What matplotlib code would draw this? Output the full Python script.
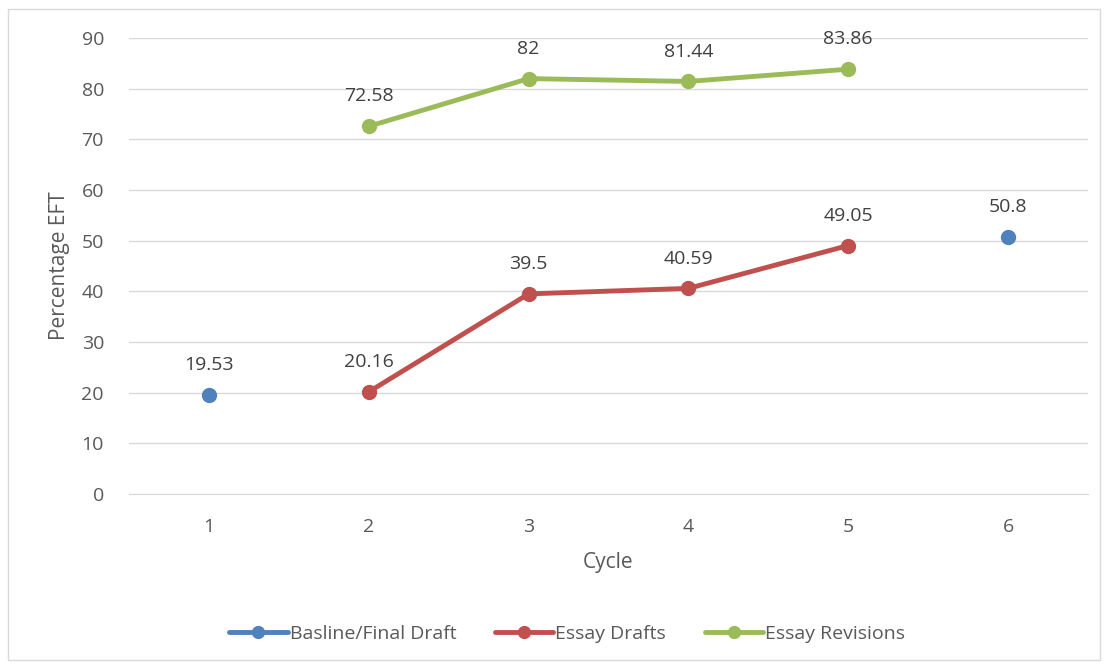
import numpy as np
import matplotlib.pyplot as plt
from matplotlib.patches import Rectangle

plt.rcParams['font.family'] = ['Open Sans', 'DejaVu Sans']

cycles = [1, 2, 3, 4, 5, 6]
baseline = [19.53, None, None, None, None, 50.8]
drafts = [None, 20.16, 39.5, 40.59, 49.05, None]
revisions = [None, 72.58, 82, 81.44, 83.86, None]

series_names = ['Basline/Final Draft', 'Essay Drafts', 'Essay Revisions']
colors = ['#4F81BD', '#C0504D', '#9BBB59']
text_col = '#595959'


def to_arr(vals):
    return np.array([np.nan if v is None else v for v in vals], dtype=float)


fig = plt.figure(figsize=(11.08, 6.68), dpi=100)
ax = fig.add_axes([0.1164, 0.2605, 0.8656, 0.6825])

# baseline: points only, no connecting line between 1 and 6
ax.plot(cycles, to_arr(baseline), color=colors[0], lw=3.5, marker='o', ms=10, zorder=3,
        solid_capstyle='round', label=series_names[0])
ax.plot(cycles, to_arr(drafts), color=colors[1], lw=3.5, marker='o', ms=10,
        zorder=3, solid_capstyle='round', label=series_names[1])
ax.plot(cycles, to_arr(revisions), color=colors[2], lw=3.5, marker='o', ms=10,
        zorder=3, solid_capstyle='round', label=series_names[2])

# data labels
for vals in (baseline, drafts, revisions):
    for x, v in zip(cycles, vals):
        if v is None:
            continue
        ax.annotate(f'{v:g}', (x, v), xytext=(0, 15), textcoords='offset points',
                    ha='center', va='bottom', fontsize=14, color='#404040')

ax.set_xlim(0.5, 6.5)
ax.set_ylim(0, 90)
ax.set_yticks(range(0, 91, 10))
ax.set_xticks(cycles)
ax.grid(axis='y', color='#D9D9D9', lw=1)
ax.set_axisbelow(True)
for s in ['top', 'right', 'left']:
    ax.spines[s].set_visible(False)
ax.spines['bottom'].set_color('#D9D9D9')
ax.tick_params(axis='both', length=0, labelsize=14, labelcolor=text_col)
ax.tick_params(axis='y', pad=18)
ax.tick_params(axis='x', pad=17)
ax.set_xlabel('Cycle', fontsize=15, color=text_col, labelpad=12)
ax.set_ylabel('Percentage EFT', fontsize=15, color=text_col, labelpad=8)

leg = fig.legend(loc='center', bbox_to_anchor=(0.512, 0.051), ncol=3, frameon=False,
                 fontsize=14, handlelength=3.0, columnspacing=2.0, handletextpad=0.1,
                 labelcolor=text_col, markerscale=0.85)

fig.patches.append(Rectangle((8 / 1108, 8 / 668), 1092 / 1108, 651 / 668,
                             transform=fig.transFigure, fill=False,
                             edgecolor='#D9D9D9', lw=1))

fig.savefig('out.png', dpi=100)
